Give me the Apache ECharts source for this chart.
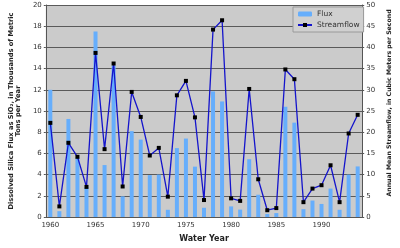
<!DOCTYPE html>
<html>
<head>
<meta charset="utf-8">
<script src="https://cdn.jsdelivr.net/npm/echarts@6/dist/echarts.min.js"></script>
<style>
  html, body { margin: 0; padding: 0; background: #ffffff; }
  #chart { width: 400px; height: 248px; }
</style>
</head>
<body>
<div id="chart"></div>
<script>
// water years 1960 - 1994
const years = [];
for (let y = 1960; y <= 1994; y++) years.push(String(y));

// dissolved silica flux, thousands of metric tons per year (left axis)
const flux = [12.0, 0.55, 9.25, 5.6, 2.8, 17.5, 4.9, 14.3, 1.95, 8.1,
  7.3, 3.95, 4.0, 0.68, 6.5, 7.4, 4.75, 0.87, 11.85, 10.9,
  1.0, 0.7, 5.45, 2.1, 0.28, 0.37, 10.4, 8.9, 0.74, 1.55,
  1.23, 2.68, 0.68, 4.0, 4.77];

// annual mean streamflow, cubic meters per second (right axis)
const streamflow = [22.2, 2.5, 17.5, 14.2, 7.1, 38.7, 16.0, 36.2, 7.2, 29.5,
  23.6, 14.5, 16.3, 4.8, 28.7, 32.1, 23.5, 4.0, 44.2, 46.4,
  4.4, 3.8, 30.2, 8.9, 1.6, 2.1, 34.8, 32.5, 3.5, 6.7,
  7.5, 12.2, 3.5, 19.7, 24.1];

const font = 'DejaVu Sans';

let chart = echarts.init(document.getElementById('chart'));
let option = {
  animation: false,
  textStyle: { fontFamily: font },
  grid: {
    left: 33, right: 26, top: 5, bottom: 26,
    show: true,
    backgroundColor: '#cbcbcb',
    borderWidth: 0
  },
  legend: {
    orient: 'vertical',
    left: 293, top: 7,
    padding: [3, 4],
    itemWidth: 14, itemHeight: 5, itemGap: 3,
    backgroundColor: '#d0d0d0',
    borderColor: '#9a9a9a', borderWidth: 1,
    textStyle: { fontSize: 7.5, color: '#333', fontFamily: font },
    data: ['Flux', 'Streamflow']
  },
  xAxis: {
    type: 'category',
    data: years,
    name: 'Water Year',
    nameLocation: 'middle',
    nameGap: 18,
    nameTextStyle: { fontSize: 8, fontWeight: 'bold', color: '#222' },
    axisLine: { lineStyle: { color: '#555', width: 1 } },
    axisTick: { interval: 0, length: 2, lineStyle: { color: '#555' } },
    axisLabel: { interval: 4, fontSize: 7, color: '#333', margin: 5 }
  },
  yAxis: [
    {
      type: 'value', min: 0, max: 20, interval: 2,
      name: 'Dissolved Silica Flux as SiO\u2082, in Thousands of Metric\nTons per Year',
      nameLocation: 'middle', nameRotate: 90, nameGap: 23,
      nameTextStyle: { fontSize: 6.7, fontWeight: 'bold', color: '#222', lineHeight: 7 },
      axisLine: { show: true, lineStyle: { color: '#555' } },
      axisTick: { show: true, length: 2, lineStyle: { color: '#555' } },
      axisLabel: { fontSize: 7, color: '#333', margin: 4 },
      splitLine: { lineStyle: { color: '#5a5a5a', width: 1 } }
    },
    {
      type: 'value', min: 0, max: 50, interval: 5,
      name: 'Annual Mean Streamflow, in Cubic Meters per Second',
      nameLocation: 'middle', nameRotate: 90, nameGap: 19,
      nameTextStyle: { fontSize: 6.2, fontWeight: 'bold', color: '#222', padding: [0, 0, 0, 16] },
      axisLine: { show: true, lineStyle: { color: '#555' } },
      axisTick: { show: true, length: 2, lineStyle: { color: '#555' } },
      axisLabel: { fontSize: 7, color: '#333', margin: 4 },
      splitLine: { show: false }
    }
  ],
  series: [
    {
      name: 'Flux',
      type: 'bar',
      yAxisIndex: 0,
      data: flux,
      barWidth: 4,
      itemStyle: { color: '#66aefc' }
    },
    {
      name: 'Streamflow',
      type: 'line',
      yAxisIndex: 1,
      data: streamflow,
      symbol: 'rect',
      symbolSize: 4,
      lineStyle: { color: '#1414cc', width: 1.3 },
      itemStyle: { color: '#000' }
    }
  ]
};
chart.setOption(option);
</script>
</body>
</html>
